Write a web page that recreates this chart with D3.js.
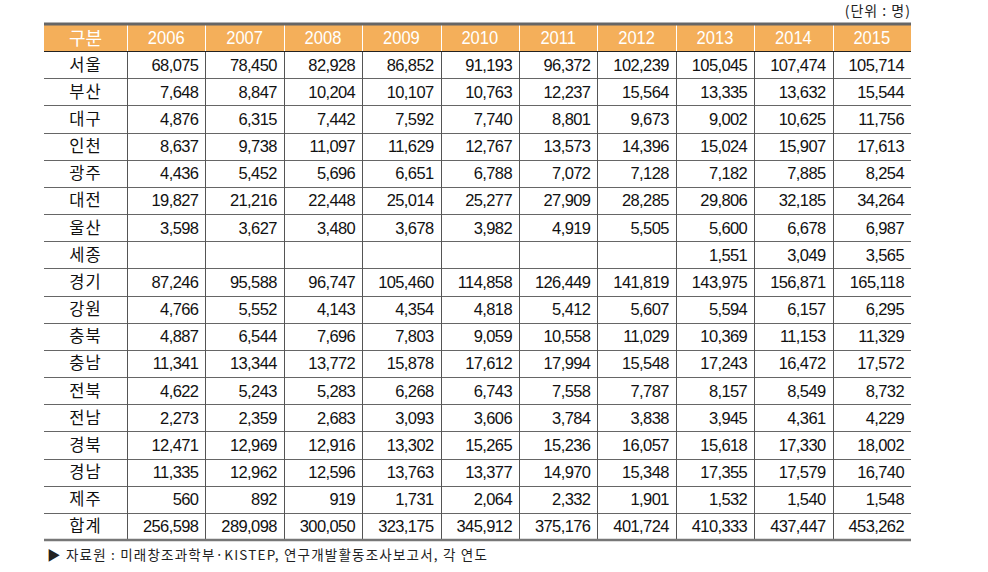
<!DOCTYPE html>
<html>
<head>
<meta charset="utf-8">
<script src="https://cdn.jsdelivr.net/npm/d3@7"></script>
<style>
body{margin:0;background:#fff;}
text{font-family:"Liberation Sans","Noto Sans CJK KR",sans-serif;}
.kr{font-family:"Noto Sans CJK KR",sans-serif;}
</style>
</head>
<body>
<svg id="chart"></svg>
<script>
var screen={width:988,height:572}
var years=["2006","2007","2008","2009","2010","2011","2012","2013","2014","2015"]
var regions=["서울","부산","대구","인천","광주","대전","울산","세종","경기","강원","충북","충남","전북","전남","경북","경남","제주","합계"]

var seoul=[68075,78450,82928,86852,91193,96372,102239,105045,107474,105714]
var busan=[7648,8847,10204,10107,10763,12237,15564,13335,13632,15544]
var daegu=[4876,6315,7442,7592,7740,8801,9673,9002,10625,11756]
var incheon=[8637,9738,11097,11629,12767,13573,14396,15024,15907,17613]
var gwangju=[4436,5452,5696,6651,6788,7072,7128,7182,7885,8254]
var daejeon=[19827,21216,22448,25014,25277,27909,28285,29806,32185,34264]
var ulsan=[3598,3627,3480,3678,3982,4919,5505,5600,6678,6987]
var sejong=[null,null,null,null,null,null,null,1551,3049,3565]
var gyeonggi=[87246,95588,96747,105460,114858,126449,141819,143975,156871,165118]
var gangwon=[4766,5552,4143,4354,4818,5412,5607,5594,6157,6295]
var chungbuk=[4887,6544,7696,7803,9059,10558,11029,10369,11153,11329]
var chungnam=[11341,13344,13772,15878,17612,17994,15548,17243,16472,17572]
var jeonbuk=[4622,5243,5283,6268,6743,7558,7787,8157,8549,8732]
var jeonnam=[2273,2359,2683,3093,3606,3784,3838,3945,4361,4229]
var gyeongbuk=[12471,12969,12916,13302,15265,15236,16057,15618,17330,18002]
var gyeongnam=[11335,12962,12596,13763,13377,14970,15348,17355,17579,16740]
var jeju=[560,892,919,1731,2064,2332,1901,1532,1540,1548]
var total=[256598,289098,300050,323175,345912,375176,401724,410333,437447,453262]

var rows=[seoul,busan,daegu,incheon,gwangju,daejeon,ulsan,sejong,gyeonggi,gangwon,chungbuk,chungnam,jeonbuk,jeonnam,gyeongbuk,gyeongnam,jeju,total]

var svg=d3.select("#chart").attr("width",screen.width).attr("height",screen.height)

var left=44, firstW=83, right=911
var headTop=25, headBottom=51, bottom=540
var rowH=(bottom-headBottom)/rows.length

// column positions
var x=d3.scaleBand().domain(years).range([left+firstW,right])
var y=d3.scaleBand().domain(regions).range([headBottom,bottom])
var fmt=d3.format(",")

// header
svg.append("rect").attr("x",left).attr("y",headTop).attr("width",right-left).attr("height",headBottom-headTop).style("fill","#f4af5a")
svg.append("text").attr("class","kr").attr("x",left+firstW/2).attr("y",(headTop+headBottom)/2+6.5)
  .attr("text-anchor","middle").style("font-size","18px").style("fill","#fff").text("구분")
svg.selectAll(".yr").data(years).enter().append("text").attr("class","yr")
  .attr("x",function(d){return x(d)+x.bandwidth()/2})
  .attr("y",(headTop+headBottom)/2+6.5)
  .attr("text-anchor","middle").style("font-size","18px").style("fill","#fff")
  .attr("transform",function(d){var cx=x(d)+x.bandwidth()/2;return "translate("+cx+",0) scale(0.92,1) translate("+(-cx)+",0)"})
  .text(function(d){return d})

// row lines
svg.selectAll(".hl").data(regions.slice(1)).enter().append("line")
  .attr("x1",left).attr("x2",right)
  .attr("y1",function(d){return Math.round(y(d))+0.5}).attr("y2",function(d){return Math.round(y(d))+0.5})
  .style("stroke","#666").style("stroke-width",1)

// vertical lines
var vx=years.map(function(d){return x(d)})
svg.selectAll(".vl").data(vx).enter().append("line")
  .attr("x1",function(d){return Math.round(d)+0.5}).attr("x2",function(d){return Math.round(d)+0.5})
  .attr("y1",headTop).attr("y2",bottom)
  .style("stroke","#555").style("stroke-width",1)
// header vertical lines white
svg.selectAll(".vlh").data(vx).enter().append("line")
  .attr("x1",function(d){return Math.round(d)+0.5}).attr("x2",function(d){return Math.round(d)+0.5})
  .attr("y1",headTop).attr("y2",headBottom)
  .style("stroke","#fff").style("stroke-width",1)

svg.append("line").attr("x1",left).attr("x2",right).attr("y1",headBottom+0.5).attr("y2",headBottom+0.5).style("stroke","#222").style("stroke-width",1.2)
svg.append("line").attr("x1",left).attr("x2",right).attr("y1",headTop-1).attr("y2",headTop-1).style("stroke","#666").style("stroke-width",3)
svg.append("line").attr("x1",left).attr("x2",right).attr("y1",bottom).attr("y2",bottom).style("stroke","#777").style("stroke-width",2.5)

// region labels
svg.selectAll(".rg").data(regions).enter().append("text").attr("class","kr")
  .attr("x",left+firstW/2).attr("y",function(d){return y(d)+rowH/2+6})
  .attr("text-anchor","middle").style("font-size","16.5px").style("fill","#111")
  .style("letter-spacing","1px")
  .text(function(d){return d})

// values
rows.forEach(function(vals,ri){
  svg.append("g").selectAll("text").data(vals).enter().append("text")
    .attr("x",function(d,i){return x(years[i])+x.bandwidth()-7})
    .attr("y",y(regions[ri])+rowH/2+6)
    .attr("text-anchor","end").style("font-size","16.5px").style("fill","#111")
    .style("letter-spacing","-0.6px")
    .text(function(d){return d==null?"":fmt(d)})
})

// unit and source
svg.append("text").attr("class","kr").attr("x",right).attr("y",16).attr("text-anchor","end")
  .style("font-size","14px").style("fill","#222").style("letter-spacing","1px").text("(단위 : 명)")
svg.append("text").attr("class","kr").attr("x",47).attr("y",560)
  .style("font-size","13.5px").style("fill","#222").style("letter-spacing","1.2px")
  .text("▶ 자료원 : 미래창조과학부·KISTEP, 연구개발활동조사보고서, 각 연도")
</script>
</body>
</html>
